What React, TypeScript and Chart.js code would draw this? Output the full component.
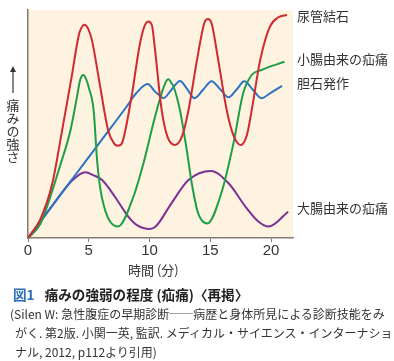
import { useEffect, useRef } from "react";
import { Chart, registerables } from "chart.js";

Chart.register(...registerables);

// ---- data (minutes vs. pain intensity 0-100) ----
const xTicks = [0, 5, 10, 15, 20];
const xMax = 21.8;
const yMax = 100;

const seriesNames = ["尿管結石", "小腸由来の疝痛", "胆石発作", "大腸由来の疝痛"];

const ureterTime = [0, 1, 2, 2.8, 3.6, 4.15, 4.35, 4.65, 4.95, 5.25, 5.95, 6.6, 7.1, 7.4, 7.7, 8.0, 8.55, 9.2, 9.6, 9.9, 10.2, 10.45, 11.0, 11.5, 12.1, 12.7, 13.2, 13.9, 14.5, 14.8, 15.1, 15.65, 16.35, 16.9, 17.5, 18.0, 18.4, 19.1, 19.9, 20.6, 21.3];
const ureterPain = [0, 8, 24, 47, 71, 88.3, 91.7, 93.5, 91.7, 87, 66, 47, 41.3, 40.5, 41.3, 47, 63, 85, 93.2, 95, 93.2, 82.5, 56, 44, 40.8, 45, 56, 78, 94.2, 96, 94.2, 78, 56, 45, 40.8, 45, 56, 78, 92.7, 96.8, 97.8];

const smallBowelTime = [0, 1, 1.75, 2.6, 3.5, 4.0, 4.3, 4.55, 4.8, 5.0, 5.4, 5.7, 6.07, 7.4, 8.67, 9.5, 10.45, 11.3, 11.55, 11.8, 12.0, 12.5, 13.06, 13.47, 14.0, 14.75, 15.9, 16.9, 17.7, 18.4, 19.2, 21.1];
const smallBowelPain = [0, 6, 16.7, 31, 47.4, 61, 69.5, 71.5, 69.5, 66, 56, 33, 18, 5, 18.1, 32.8, 53.2, 68, 69.6, 68, 66, 56, 38.6, 24, 10.8, 6.4, 19.6, 41.5, 63.5, 71.5, 73.7, 77.3];

const biliaryTime = [0, 2, 4, 6, 8, 8.9, 9.85, 10.45, 10.86, 11.14, 11.8, 12.5, 13.1, 13.7, 14.4, 15.1, 15.8, 16.5, 17.15, 17.8, 18.5, 19.2, 20.0, 20.9];
const biliaryPain = [0, 14.2, 28.4, 42.6, 56.8, 63.5, 67.5, 64.2, 62.4, 61.3, 65, 68.9, 65.3, 61.3, 65, 68.8, 65.3, 61.7, 65, 68.8, 65, 61.3, 63.8, 66.7];

const colonTime = [0, 1, 2, 3, 3.6, 4.7, 5.4, 6.1, 7.15, 8.25, 9.0, 10.0, 10.5, 11.8, 13.2, 15.05, 16.5, 17.9, 18.9, 19.8, 21.4];
const colonPain = [0, 7.1, 14.2, 21.3, 25, 28.8, 27.5, 25.4, 18.1, 9.4, 5.5, 3.9, 5, 15.2, 25.4, 29.4, 24, 13.7, 7.5, 5, 11.5];

const seriesColors = ["#d02a30", "#1f9e48", "#2a74c2", "#7b3193"];

const toPoints = (xs: number[], ys: number[]) => xs.map((x, i) => ({ x, y: ys[i] }));

const axisColor = "#85796f";
const jpFont = '"Noto Sans CJK JP", "Noto Sans", sans-serif';

export default function App() {
  const ref = useRef<HTMLCanvasElement>(null);

  useEffect(() => {
    if (!ref.current) return;
    const bgPlugin = {
      id: "plotBg",
      beforeDraw(chart: any) {
        const { ctx, chartArea: a } = chart;
        ctx.save();
        ctx.fillStyle = "#fef2e0";
        ctx.fillRect(a.left, a.top, a.right - a.left, a.bottom - a.top);
        ctx.restore();
      },
    };
    const series = [
      toPoints(ureterTime, ureterPain),
      toPoints(smallBowelTime, smallBowelPain),
      toPoints(biliaryTime, biliaryPain),
      toPoints(colonTime, colonPain),
    ];
    const chart = new Chart(ref.current, {
      type: "line",
      data: {
        datasets: series.map((d, i) => ({
          label: seriesNames[i],
          data: d,
          borderColor: seriesColors[i],
          backgroundColor: seriesColors[i],
          borderWidth: 2,
          pointRadius: 0,
          fill: false,
          cubicInterpolationMode: "monotone" as const,
        })),
      },
      options: {
        responsive: false,
        animation: false,
        devicePixelRatio: 1,
        layout: { padding: { left: 28, top: 10, right: 101, bottom: 0 } },
        plugins: { legend: { display: false }, tooltip: { enabled: false } },
        scales: {
          x: {
            type: "linear",
            min: 0,
            max: xMax,
            afterBuildTicks: (s: any) => {
              s.ticks = xTicks.map((v) => ({ value: v }));
            },
            afterFit: (s: any) => {
              s.height = 24;
            },
            grid: { drawOnChartArea: false, drawTicks: true, tickLength: 4, color: axisColor, lineWidth: 1 },
            border: { display: true, color: axisColor, width: 1.5 },
            ticks: {
              color: "#333",
              font: { size: 15, family: '"Liberation Sans", Arial, sans-serif' },
              padding: 0,
              maxRotation: 0,
              autoSkip: false,
            },
          },
          y: {
            min: 0,
            max: yMax,
            afterFit: (s: any) => {
              s.width = 0;
            },
            grid: { display: false },
            border: { display: true, color: axisColor, width: 1.5 },
            ticks: { display: false },
          },
        },
      } as any,
      plugins: [bgPlugin],
    });
    return () => chart.destroy();
  }, []);

  const labelStyle: any = {
    position: "absolute",
    left: 297,
    fontSize: 13,
    lineHeight: "13px",
    color: "#333",
    whiteSpace: "nowrap",
  };
  const labelTops = [9, 52, 75.5, 200.5];

  return (
    <div
      style={{
        position: "absolute",
        left: 0,
        top: 0,
        width: 394,
        height: 361,
        background: "#fff",
        fontFamily: jpFont,
        overflow: "hidden",
      }}
    >
      <canvas
        ref={ref}
        width={394}
        height={262}
        style={{ position: "absolute", left: 0, top: 0, width: 394, height: 262 }}
      />
      {seriesNames.map((n, i) => (
        <div key={n} style={{ ...labelStyle, top: labelTops[i] }}>
          {n}
        </div>
      ))}
      <svg style={{ position: "absolute", left: 9, top: 66 }} width={8} height={27}>
        <line x1={4} y1={27} x2={4} y2={4} stroke="#333" strokeWidth={1.2} />
        <polygon points="4,0 1,6 7,6" fill="#333" />
      </svg>
      <div
        style={{
          position: "absolute",
          left: 6.5,
          top: 99,
          writingMode: "vertical-rl",
          fontSize: 13,
          lineHeight: "13px",
          color: "#333",
          whiteSpace: "nowrap",
        }}
      >
        痛みの強さ
      </div>
      <div style={{ position: "absolute", left: 128, top: 263, fontSize: 13, lineHeight: "13px", color: "#333", whiteSpace: "nowrap" }}>
        時間 (分)
      </div>
      <div style={{ position: "absolute", left: 13, top: 286.5, fontSize: 13.6, lineHeight: "14px", fontWeight: "bold", color: "#222", whiteSpace: "nowrap" }}>
        <span style={{ color: "#2a6fb8", marginRight: 10 }}>図1</span>
        痛みの強弱の程度 (疝痛)〈再掲〉
      </div>
      <div style={{ position: "absolute", left: 10, top: 307.5, fontSize: 12, lineHeight: "12px", color: "#333", whiteSpace: "nowrap" }}>
        (Silen W: 急性腹症の早期診断──病歴と身体所見による診断技能をみ
      </div>
      <div style={{ position: "absolute", left: 15, top: 327, fontSize: 12, lineHeight: "12px", color: "#333", whiteSpace: "nowrap" }}>
        がく. 第2版. 小関一英, 監訳. メディカル・サイエンス・インターナショ
      </div>
      <div style={{ position: "absolute", left: 15, top: 346, fontSize: 12, lineHeight: "12px", color: "#333", whiteSpace: "nowrap" }}>
        ナル, 2012, p112より引用)
      </div>
    </div>
  );
}
